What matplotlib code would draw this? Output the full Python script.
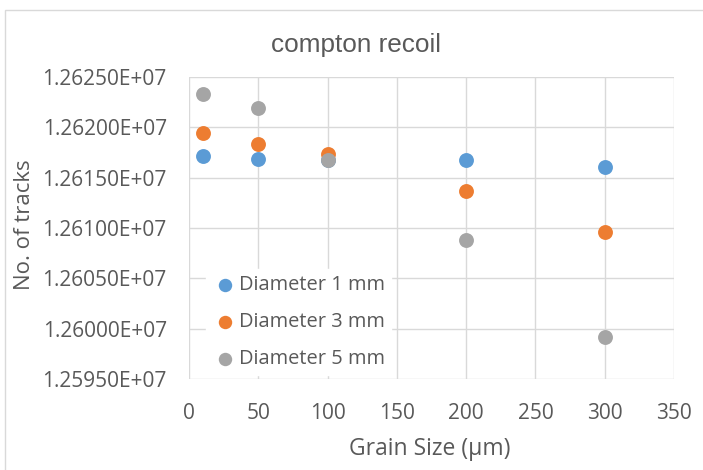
import matplotlib.pyplot as plt
from matplotlib.patches import Rectangle

# grain size in micrometres
grain_size = [10, 50, 100, 200, 300]

# number of tracks per detector diameter
tracks_1mm = [12617200, 12616900, 12616800, 12616800, 12616100]
tracks_3mm = [12619400, 12618300, 12617400, 12613700, 12609600]
tracks_5mm = [12623300, 12621900, 12616800, 12608800, 12599200]

series_labels = ["Diameter 1 mm", "Diameter 3 mm", "Diameter 5 mm"]
series_colors = ["#5B9BD5", "#ED7D31", "#A5A5A5"]

text_color = "#595959"
grid_color = "#D9D9D9"

W, H = 703, 470
fig = plt.figure(figsize=(W / 100, H / 100), dpi=100)

# chart area outline (only the left and top edges fall inside the image)
fig.patches.append(Rectangle((5 / W, -1.0), 2.0, 2 - 10 / H, transform=fig.transFigure,
                             fill=False, edgecolor=grid_color, linewidth=1.0))

left, right, top, bottom = 189, 674, 77, 379
ax = fig.add_axes([left / W, 1 - bottom / H, (right - left) / W, (bottom - top) / H])

for ys, lab, col in zip([tracks_1mm, tracks_3mm, tracks_5mm], series_labels, series_colors):
    ax.scatter(grain_size, ys, s=115, color=col, label=lab, zorder=3, linewidths=0)

ax.set_xlim(0, 350)
ax.set_ylim(12595000, 12625000)
ax.set_xticks(range(0, 351, 50))
ax.set_yticks(range(12595000, 12625001, 5000))
ax.set_yticklabels([f"{v / 1e7:.5f}E+07" for v in range(12595000, 12625001, 5000)])

ax.grid(True, color=grid_color, linewidth=1.0, zorder=0)
ax.set_axisbelow(True)
for side in ["top", "right", "left", "bottom"]:
    ax.spines[side].set_visible(False)
ax.tick_params(length=0, labelsize=15, labelcolor=text_color)
ax.tick_params(axis="y", pad=16)
ax.tick_params(axis="x", pad=17)
for lbl in ax.get_xticklabels() + ax.get_yticklabels():
    lbl.set_fontfamily("Open Sans")

fig.text(430 / W, 1 - 449 / H, "Grain Size (µm)", ha="center", va="center",
         fontsize=16.5, color=text_color, family="Open Sans")
fig.text(25 / W, 1 - 225 / H, "No. of tracks", rotation=90, ha="center", va="center",
         fontsize=16, color=text_color, family="Open Sans")
fig.text(356 / W, 1 - 45 / H, "compton recoil", ha="center", va="center",
         fontsize=18.8, color=text_color, family="Liberation Sans")

leg = ax.legend(loc="upper left", bbox_to_anchor=(206 / W, 1 - 269 / H),
                bbox_transform=fig.transFigure, frameon=True,
                fontsize=14.4, labelspacing=0.85, handletextpad=0.05, borderpad=0.3,
                borderaxespad=0, markerscale=0.9, handlelength=1.3)
leg.get_frame().set_facecolor("white")
leg.get_frame().set_edgecolor("white")
leg.get_frame().set_alpha(1.0)
for t in leg.get_texts():
    t.set_color(text_color)
    t.set_fontfamily("Open Sans")

fig.savefig("out.png", dpi=100)
